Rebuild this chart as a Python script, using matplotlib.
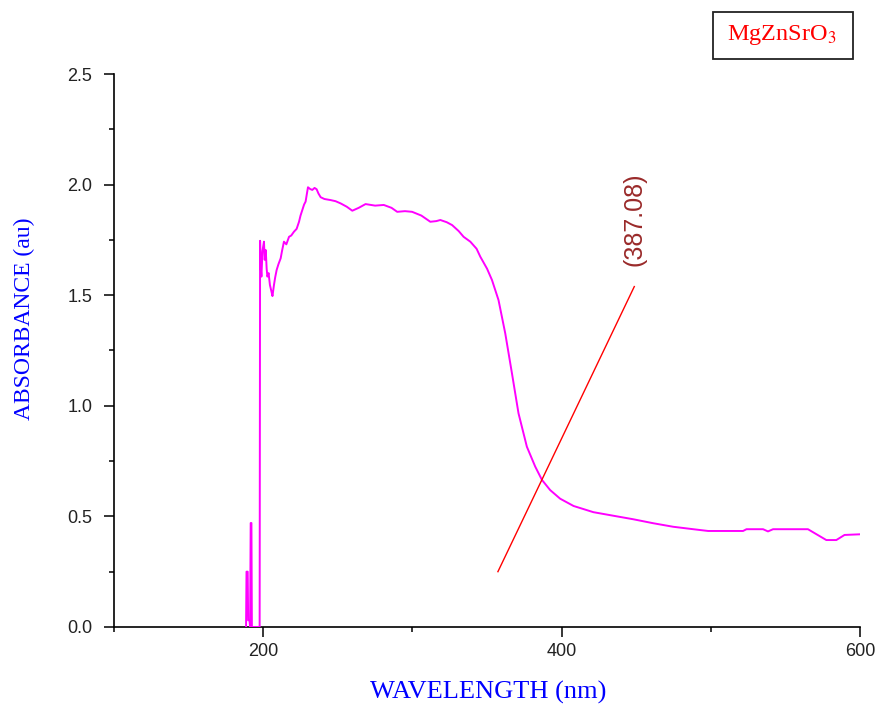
import matplotlib
matplotlib.use("Agg")
import matplotlib.pyplot as plt
from matplotlib.patches import Rectangle
from matplotlib.ticker import MultipleLocator

# absorbance spectrum
wavelength = [188.5, 188.8, 189.6, 189.9, 190.8, 191.2, 191.6, 192.1, 192.4, 197.6,
              197.9, 198.4, 198.8, 199.5, 200.5, 201.0, 201.7, 202.3, 202.8, 203.6,
              204.5, 205.4, 206.2, 207.2, 208.0, 209.0, 210.2, 211.7, 212.6, 213.9,
              215.5, 217.3, 218.8, 220.6, 222.4, 224.0, 225.0, 226.2, 227.4, 228.4,
              229.3, 230.0, 231.5, 232.9, 234.4, 235.8, 237.0, 238.5, 241.0, 245.2,
              248.5, 251.9, 256.0, 259.7, 264.0, 268.6, 275.0, 280.8, 286.0, 289.8,
              295.0, 299.8, 306.0, 312.0, 316.0, 318.7, 323.0, 326.6, 331.0, 334.3,
              338.8, 343.0, 345.5, 350.0, 353.3, 357.7, 362.2, 366.7, 371.1, 376.7,
              382.3, 386.8, 392.3, 399.0, 408.0, 421.3, 434.6, 448.0, 461.4, 474.8,
              488.2, 498.2, 521.6, 523.9, 535.0, 538.3, 541.7, 565.1, 569.6, 577.4,
              584.1, 589.6, 600.0]
absorbance = [0.0, 0.25, 0.25, 0.03, 0.03, 0.0, 0.47, 0.47, 0.0, 0.0,
              1.746, 1.62, 1.584, 1.70, 1.742, 1.66, 1.704, 1.62, 1.584, 1.60,
              1.546, 1.52, 1.496, 1.546, 1.58, 1.614, 1.64, 1.667, 1.70, 1.742,
              1.73, 1.764, 1.77, 1.787, 1.80, 1.832, 1.86, 1.885, 1.91, 1.923,
              1.96, 1.988, 1.98, 1.976, 1.985, 1.979, 1.96, 1.943, 1.935, 1.930,
              1.925, 1.915, 1.90, 1.882, 1.895, 1.912, 1.905, 1.908, 1.895, 1.877,
              1.880, 1.877, 1.860, 1.832, 1.835, 1.840, 1.830, 1.817, 1.790, 1.764,
              1.742, 1.710, 1.674, 1.620, 1.569, 1.478, 1.328, 1.147, 0.966, 0.815,
              0.725, 0.665, 0.619, 0.580, 0.547, 0.519, 0.503, 0.487, 0.469, 0.453,
              0.442, 0.434, 0.434, 0.442, 0.442, 0.432, 0.442, 0.442, 0.424, 0.393,
              0.393, 0.416, 0.419]

# tangent line used for the band-edge estimate
tangent_x = [357.3, 448.7]
tangent_y = [0.25, 1.539]
edge_label = "(387.08)"
sample_name = "MgZnSrO$_3$"

plt.rcParams['mathtext.fontset'] = 'stix'

fig = plt.figure(figsize=(8.75, 7.07), dpi=100)
ax = fig.add_axes([0.1303, 0.1132, 0.8526, 0.7821])

ax.plot(wavelength, absorbance, color='#FF00FF', lw=1.4, zorder=3)
ax.plot(tangent_x, tangent_y, color='#FF0000', lw=1.0, zorder=3)
ax.text(tangent_x[1], 1.63, edge_label, rotation=90, ha='center', va='bottom',
        color='#9A2A2A', fontsize=18, family='Liberation Sans')

ax.set_xlim(100, 600)
ax.set_ylim(0, 2.5)
ax.xaxis.set_major_locator(MultipleLocator(200))
ax.xaxis.set_minor_locator(MultipleLocator(100))
ax.yaxis.set_major_locator(MultipleLocator(0.5))
ax.yaxis.set_minor_locator(MultipleLocator(0.25))
ax.yaxis.set_major_formatter(plt.FuncFormatter(lambda v, p: f"{v:.1f}"))

for side in ['top', 'right']:
    ax.spines[side].set_visible(False)
for side in ['left', 'bottom']:
    ax.spines[side].set_linewidth(1.2)

ax.tick_params(which='major', direction='out', length=7.5, width=1.1)
ax.tick_params(which='minor', direction='out', length=3.8, width=1.1)
ax.tick_params(axis='x', which='major', pad=4)
ax.tick_params(axis='y', which='major', pad=8)
for lab in ax.get_xticklabels() + ax.get_yticklabels():
    lab.set_family('Liberation Sans')
    lab.set_fontsize(13)
    lab.set_color('#222222')

ax.set_xlabel("WAVELENGTH (nm)", color='#0000FF', fontsize=19, family='Liberation Serif')
ax.set_ylabel("ABSORBANCE (au)", color='#0000FF', fontsize=17, family='Liberation Serif')
ax.xaxis.set_label_coords(0.501, -0.118)
ax.xaxis.label.set_va('center')
ax.yaxis.set_label_coords(-0.120, 0.557)
ax.yaxis.label.set_va('center')

# sample name box in the top right corner
fig.patches.append(Rectangle((713 / 875, 1 - 59 / 707), 140 / 875, 47 / 707,
                             transform=fig.transFigure, fill=False,
                             edgecolor='#222222', lw=1.3))
fig.text(782 / 875, 1 - 35 / 707, sample_name, color='#FF0000', fontsize=17.5,
         family='Liberation Serif', ha='center', va='center')

fig.savefig('out.png', dpi=100)
